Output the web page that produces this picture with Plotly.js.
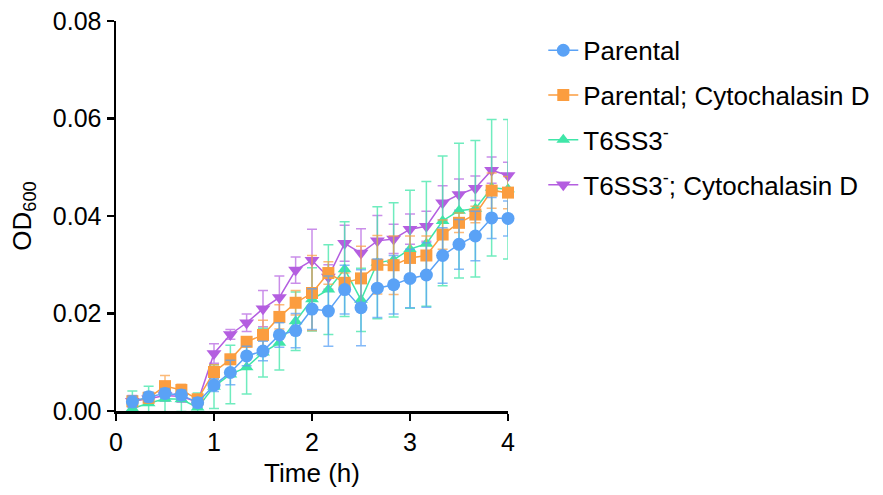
<!DOCTYPE html>
<html>
<head>
<meta charset="utf-8">
<script src="https://cdn.plot.ly/plotly-3.0.1.min.js"></script>
<style>html,body{margin:0;padding:0;background:#fff;}#chart{width:883px;height:495px;}</style>
</head>
<body>
<div id="chart"></div>
<script>
const timeH = [0.167,0.333,0.5,0.667,0.833,1.0,1.167,1.333,1.5,1.667,1.833,2.0,2.167,2.333,2.5,2.667,2.833,3.0,3.167,3.333,3.5,3.667,3.833,4.0];

const parental =      [0.0019,0.0029,0.0036,0.0033,0.0017,0.0053,0.0079,0.0113,0.0123,0.0156,0.0165,0.0209,0.0205,0.0249,0.0212,0.0252,0.0259,0.0272,0.0279,0.0319,0.0342,0.0359,0.0396,0.0395];
const parentalErr =   [0.0012,0.0010,0.0010,0.0010,0.0010,0.0013,0.0025,0.0020,0.0020,0.0025,0.0035,0.0042,0.0072,0.0050,0.0078,0.0060,0.0060,0.0060,0.0066,0.0057,0.0051,0.0051,0.0042,0.0036];

const parentalCD =    [0.0020,0.0027,0.0051,0.0043,0.0024,0.0080,0.0106,0.0142,0.0156,0.0193,0.0222,0.0242,0.0283,0.0263,0.0272,0.0300,0.0299,0.0314,0.0319,0.0362,0.0386,0.0403,0.0452,0.0448];
const parentalCDErr = [0.0010,0.0010,0.0022,0.0012,0.0010,0.0015,0.0010,0.0010,0.0030,0.0025,0.0025,0.0077,0.0023,0.0020,0.0066,0.0060,0.0060,0.0045,0.0040,0.0030,0.0020,0.0017,0.0036,0.0033];

const t6ss3 =         [0.0005,0.0016,0.0025,0.0024,0.0007,0.0050,0.0075,0.0090,0.0120,0.0140,0.0184,0.0229,0.0249,0.0291,0.0228,0.0304,0.0310,0.0332,0.0343,0.0390,0.0411,0.0415,0.0458,0.0455];
const t6ss3Err =      [0.0036,0.0035,0.0030,0.0025,0.0030,0.0045,0.0060,0.0055,0.0050,0.0056,0.0060,0.0065,0.0092,0.0097,0.0065,0.0115,0.0117,0.0121,0.0128,0.0133,0.0138,0.0140,0.0140,0.0143];

const t6ss3CD =       [0.0020,0.0025,0.0032,0.0030,0.0018,0.0118,0.0157,0.0181,0.0210,0.0233,0.0289,0.0309,0.0275,0.0344,0.0324,0.0349,0.0353,0.0373,0.0379,0.0427,0.0444,0.0457,0.0494,0.0483];
const t6ss3CDErr =    [0.0012,0.0012,0.0012,0.0012,0.0010,0.0020,0.0010,0.0018,0.0037,0.0044,0.0027,0.0064,0.0025,0.0037,0.0050,0.0052,0.0030,0.0031,0.0031,0.0035,0.0032,0.0025,0.0027,0.0027];

const seriesNames = ['Parental','Parental; Cytochalasin D','T6SS3<sup>-</sup>','T6SS3<sup>-</sup>; Cytochalasin D'];

function mk(name, rank, y, err, color, errColor, symbol, size){
  return {
    x: timeH, y: y, name: name, type: 'scatter', mode: 'lines+markers',
    legendgroup: name, legendrank: rank,
    line: {color: color, width: 1.5},
    marker: {color: color, symbol: symbol, size: size},
    error_y: {type: 'data', array: err, visible: true, color: errColor, thickness: 1.5, width: 5},
    cliponaxis: false
  };
}

const data = [
  mk(seriesNames[3], 4, t6ss3CD, t6ss3CDErr, '#b45ee0', 'rgba(180,94,224,0.7)', 'triangle-down', 13),
  mk(seriesNames[2], 3, t6ss3, t6ss3Err, '#3fe6a8', 'rgba(63,230,168,0.75)', 'triangle-up', 12),
  mk(seriesNames[1], 2, parentalCD, parentalCDErr, '#fb9d3f', 'rgba(251,157,63,0.7)', 'square', 12),
  mk(seriesNames[0], 1, parental, parentalErr, '#5aa2f6', 'rgba(90,162,246,0.75)', 'circle', 13)
];

const layout = {
  width: 883, height: 495,
  margin: {l: 116, r: 375, t: 21, b: 84, autoexpand: false},
  paper_bgcolor: '#fff', plot_bgcolor: '#fff',
  font: {family: 'Liberation Sans, Arial, sans-serif', size: 25, color: '#000'},
  showlegend: true,
  legend: {x: 1.09, y: 0.985, xanchor: 'left', yanchor: 'top', traceorder: 'grouped', tracegroupgap: 8,
           font: {size: 26}, bgcolor: 'rgba(0,0,0,0)'},
  xaxis: {
    range: [0, 4], tickvals: [0,1,2,3,4], showgrid: false, zeroline: false,
    showline: true, linecolor: '#000', linewidth: 2.5, ticks: 'outside', ticklen: 7, tickwidth: 2.5, tickcolor: '#000',
    tickfont: {size: 25},
    title: {text: 'Time (h)', font: {size: 26}, standoff: 10}
  },
  yaxis: {
    range: [0, 0.08], tickvals: [0,0.02,0.04,0.06,0.08], tickformat: '.2f', showgrid: false, zeroline: false,
    showline: true, linecolor: '#000', linewidth: 2.5, ticks: 'outside', ticklen: 7, tickwidth: 2.5, tickcolor: '#000',
    tickfont: {size: 25},
    title: {text: 'OD<sub>600</sub>', font: {size: 26}, standoff: 14}
  }
};

Plotly.newPlot('chart', data, layout, {displayModeBar: false, staticPlot: true});
</script>
</body>
</html>
